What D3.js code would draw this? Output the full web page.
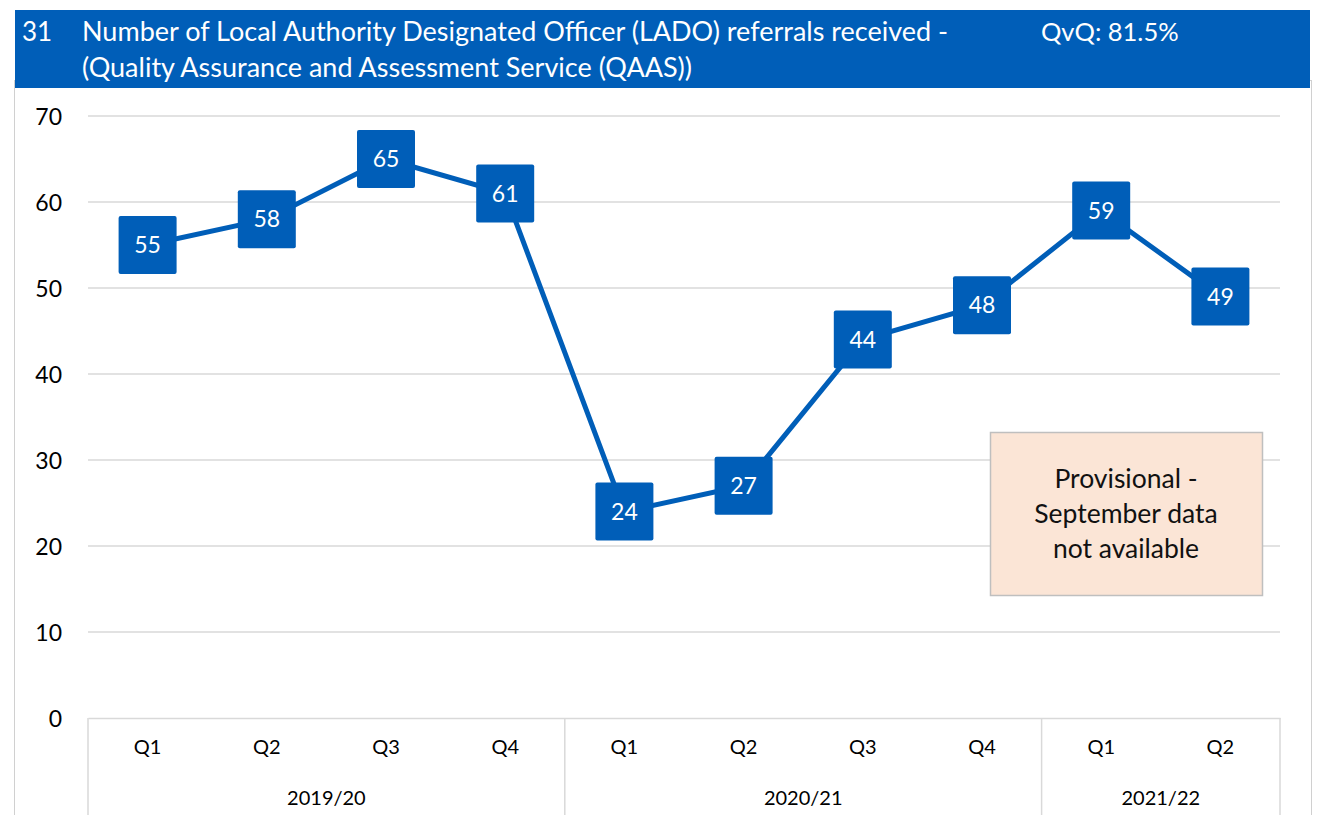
<!DOCTYPE html>
<html>
<head>
<meta charset="utf-8">
<script src="https://cdn.jsdelivr.net/npm/d3@7"></script>
<style>
  body { margin: 0; background: #fff; }
  svg { font-family: Lato, "Open Sans", sans-serif; }
</style>
</head>
<body>
<div id="chart"></div>
<script>
// datos
const quarters = ["Q1", "Q2", "Q3", "Q4", "Q1", "Q2", "Q3", "Q4", "Q1", "Q2"];
const years = ["2019/20", "2019/20", "2019/20", "2019/20", "2020/21", "2020/21", "2020/21", "2020/21", "2021/22", "2021/22"];
const referrals = [55, 58, 65, 61, 24, 27, 44, 48, 59, 49];
const yTicks = [0, 10, 20, 30, 40, 50, 60, 70];
const titleLines = ["Number of Local Authority Designated Officer (LADO) referrals received -",
  "(Quality Assurance and Assessment Service (QAAS))"];
const noteLines = ["Provisional -", "September data", "not available"];

const W = 1319, H = 815;
const blue = "#005EB8";
const margin = { top: 116, right: 39, bottom: 97, left: 88 };
const width = W - margin.left - margin.right;
const height = H - margin.top - margin.bottom;

const svg = d3.select("#chart").append("svg")
  .attr("width", W)
  .attr("height", H);

// marco del grafico
svg.append("rect")
  .attr("x", 14.5).attr("y", 80.5)
  .attr("width", 1297).attr("height", 760)
  .attr("fill", "none")
  .attr("stroke", "#d0d0d0");

// cabecera azul
svg.append("rect")
  .attr("x", 15).attr("y", 10)
  .attr("width", 1295).attr("height", 78)
  .attr("fill", blue);

svg.append("text")
  .attr("x", 22).attr("y", 41)
  .attr("fill", "#fff").style("font-size", "26px")
  .text("31");

svg.selectAll(".title")
  .data(titleLines)
  .enter().append("text")
  .attr("class", "title")
  .attr("x", 82).attr("y", (d, i) => 41 + i * 36)
  .attr("fill", "#fff").style("font-size", "27px")
  .text(d => d);

svg.append("text")
  .attr("x", 1041).attr("y", 41)
  .attr("fill", "#fff").style("font-size", "25.5px")
  .text("QvQ: 81.5%");

const g = svg.append("g")
  .attr("transform", `translate(${margin.left},${margin.top})`);

// escalas
const idx = d3.range(referrals.length);
const x = d3.scaleBand().domain(idx).range([0, width]);
const y = d3.scaleLinear().domain([0, 70]).range([height, 0]);

// lineas de la grilla
g.selectAll(".grid")
  .data(yTicks.filter(d => d > 0))
  .enter().append("line")
  .attr("x1", 0).attr("x2", width)
  .attr("y1", d => y(d)).attr("y2", d => y(d))
  .attr("stroke", "#d9d9d9").attr("stroke-width", 1.5);

// eje y
const yAxis = g.append("g")
  .call(d3.axisLeft(y).tickValues(yTicks).tickSize(0).tickPadding(26));
yAxis.select(".domain").remove();
yAxis.selectAll("text")
  .style("font-size", "23px").style("font-family", "Lato, sans-serif")
  .attr("fill", "#000").attr("dy", "0.35em");

// eje x (trimestres)
const xAxis = g.append("g")
  .attr("transform", `translate(0,${height})`)
  .call(d3.axisBottom(x).tickFormat(i => quarters[i]).tickSize(0).tickPadding(22));
xAxis.select(".domain").attr("stroke", "#d9d9d9").attr("stroke-width", 1.5);
xAxis.selectAll("text")
  .style("font-size", "20px").style("font-family", "Lato, sans-serif")
  .attr("fill", "#000");

// grupos de años
const groups = d3.groups(idx, i => years[i]);
const bounds = [0];
groups.forEach(([yr, arr]) => bounds.push(x(arr[arr.length - 1]) + x.bandwidth()));

g.selectAll(".sep")
  .data(bounds)
  .enter().append("line")
  .attr("x1", d => d).attr("x2", d => d)
  .attr("y1", height).attr("y2", H - margin.top)
  .attr("stroke", "#d9d9d9").attr("stroke-width", 1.5);

g.selectAll(".year")
  .data(groups)
  .enter().append("text")
  .attr("x", d => (x(d[1][0]) + x(d[1][d[1].length - 1]) + x.bandwidth()) / 2)
  .attr("y", height + 87)
  .attr("text-anchor", "middle")
  .style("font-size", "20px")
  .text(d => d[0]);

// linea
const line = d3.line()
  .x((d, i) => x(i) + x.bandwidth() / 2)
  .y(d => y(d));

g.append("path")
  .datum(referrals)
  .attr("fill", "none")
  .attr("stroke", blue)
  .attr("stroke-width", 5)
  .attr("d", line);

// marcadores cuadrados con etiqueta
const s = 58;
const pts = g.selectAll(".pt")
  .data(referrals)
  .enter().append("g")
  .attr("transform", (d, i) => `translate(${x(i) + x.bandwidth() / 2},${y(d)})`);

pts.append("rect")
  .attr("x", -s / 2).attr("y", -s / 2)
  .attr("width", s).attr("height", s)
  .attr("rx", 2)
  .attr("fill", blue);

pts.append("text")
  .attr("text-anchor", "middle")
  .attr("dy", "0.36em")
  .attr("fill", "#fff")
  .style("font-size", "23px")
  .text(d => d);

// nota provisional
const note = svg.append("g");
note.append("rect")
  .attr("x", 990.5).attr("y", 432.5)
  .attr("width", 272).attr("height", 163)
  .attr("fill", "#FBE5D6")
  .attr("stroke", "#bfbfbf").attr("stroke-width", 1.5);

note.selectAll("text")
  .data(noteLines)
  .enter().append("text")
  .attr("x", 1126).attr("y", (d, i) => 488 + i * 35)
  .attr("text-anchor", "middle")
  .attr("fill", "#111")
  .style("font-size", "26.5px")
  .text(d => d);
</script>
</body>
</html>
